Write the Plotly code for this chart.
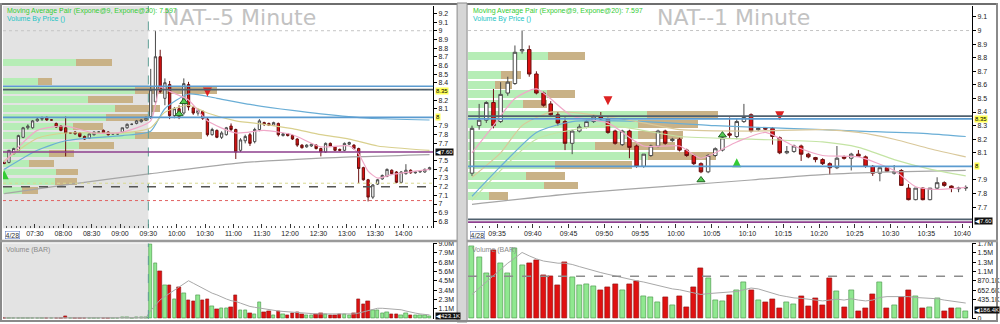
import pandas as pd
import plotly.graph_objects as go

DAY = "2020-04-28 "

# ======================= LEFT PANEL : NAT 5-minute =======================
l_first, l_last = "06:55", "14:25"          # first / last 5-minute bar
l_open = [7.48, 7.48, 7.58, 7.62, 7.77, 7.88, 7.88, 7.96, 7.98, 8.00, 7.97, 7.93, 7.90,
          7.88, 7.82, 7.83, 7.82, 7.78, 7.76, 7.80, 7.83, 7.85, 7.83, 7.81, 7.81,
          7.83, 7.88, 7.92, 7.93, 7.95, 7.97,
          8.01, 8.18, 8.70, 8.22, 8.38, 8.02, 8.10, 8.05, 8.38, 8.11, 8.05, 8.07,
          7.98, 7.80, 7.85, 7.77, 7.80, 7.90, 7.86, 7.62, 7.73, 7.80, 7.72, 7.86,
          7.94, 7.93, 7.91, 7.93, 7.79, 7.81, 7.79, 7.75, 7.68, 7.66, 7.67, 7.68,
          7.64, 7.60, 7.70, 7.66, 7.63, 7.62, 7.69, 7.68, 7.64, 7.42, 7.28, 7.08,
          7.23, 7.29, 7.32, 7.39, 7.37, 7.25, 7.35, 7.39, 7.36, 7.37, 7.37, 7.40]
l_high = [7.49, 7.62, 7.65, 7.80, 7.89, 7.92, 7.97, 8.00, 8.01, 8.01, 7.98, 7.94, 7.91,
          8.01, 7.83, 7.84, 7.83, 7.79, 7.82, 7.84, 7.84, 7.86, 7.84, 7.82, 7.82,
          7.88, 7.93, 7.93, 7.97, 7.98, 8.01,
          8.56, 9.00, 8.78, 8.45, 8.42, 8.12, 8.14, 8.45, 8.41, 8.13, 8.10, 8.08,
          8.00, 7.88, 7.86, 7.84, 7.89, 7.93, 7.87, 7.76, 7.80, 7.82, 7.88, 7.98,
          7.95, 7.94, 7.95, 7.94, 7.82, 7.82, 7.80, 7.76, 7.69, 7.69, 7.70, 7.69,
          7.65, 7.71, 7.71, 7.67, 7.64, 7.71, 7.72, 7.69, 7.65, 7.43, 7.29, 7.23,
          7.29, 7.34, 7.41, 7.40, 7.38, 7.38, 7.46, 7.40, 7.38, 7.39, 7.41, 7.43]
l_low = [7.46, 7.47, 7.57, 7.62, 7.76, 7.86, 7.87, 7.95, 7.96, 7.96, 7.96, 7.88, 7.84,
         7.55, 7.81, 7.80, 7.77, 7.74, 7.75, 7.79, 7.82, 7.81, 7.79, 7.80, 7.80,
         7.82, 7.87, 7.91, 7.92, 7.94, 7.96,
         7.98, 8.15, 8.28, 8.14, 7.98, 7.99, 7.98, 8.03, 8.08, 8.03, 8.02, 7.97,
         7.78, 7.79, 7.76, 7.75, 7.79, 7.84, 7.52, 7.60, 7.70, 7.67, 7.70, 7.84,
         7.90, 7.90, 7.90, 7.78, 7.78, 7.78, 7.74, 7.66, 7.64, 7.65, 7.66, 7.63,
         7.55, 7.59, 7.66, 7.61, 7.61, 7.61, 7.68, 7.63, 7.24, 7.27, 7.03, 7.06,
         7.22, 7.28, 7.31, 7.34, 7.24, 7.24, 7.34, 7.35, 7.35, 7.36, 7.36, 7.39]
l_close = [7.47, 7.62, 7.64, 7.79, 7.88, 7.90, 7.96, 7.98, 7.99, 7.97, 7.97, 7.89, 7.85,
           7.82, 7.82, 7.81, 7.78, 7.75, 7.81, 7.83, 7.83, 7.82, 7.80, 7.81, 7.81,
           7.88, 7.92, 7.92, 7.96, 7.97, 8.00,
           8.32, 8.70, 8.30, 8.40, 8.02, 8.10, 8.01, 8.39, 8.12, 8.05, 8.08, 7.99,
           7.80, 7.86, 7.77, 7.82, 7.88, 7.86, 7.60, 7.74, 7.78, 7.70, 7.86, 7.96,
           7.92, 7.91, 7.94, 7.80, 7.81, 7.79, 7.75, 7.68, 7.65, 7.68, 7.69, 7.64,
           7.60, 7.70, 7.67, 7.62, 7.62, 7.70, 7.71, 7.64, 7.41, 7.28, 7.08, 7.22,
           7.28, 7.33, 7.40, 7.35, 7.25, 7.37, 7.39, 7.36, 7.37, 7.38, 7.40, 7.42]
# volume in millions of shares
l_vol = [0.02, 0.03, 0.02, 0.03, 0.02, 0.02, 0.03, 0.04, 0.02, 0.03, 0.02, 0.02, 0.03,
         0.20, 0.03, 0.02, 0.02, 0.03, 0.02, 0.03, 0.02, 0.02, 0.02, 0.03, 0.02,
         0.06, 0.05, 0.04, 0.05, 0.06, 0.10,
         8.9, 6.6, 5.6, 3.9, 3.9, 2.3, 3.7, 3.0, 2.2, 2.0, 2.8, 2.2,
         2.3, 1.46, 1.07, 1.18, 1.18, 1.3, 2.76, 1.0, 1.0, 0.59, 0.47, 1.89,
         0.71, 0.79, 0.39, 0.87, 0.47, 0.32, 0.59, 0.71, 0.47, 0.39, 0.32, 0.47,
         0.59, 0.47, 0.32, 0.32, 0.47, 0.47, 0.39, 0.59, 2.29, 1.66, 2.05, 0.99,
         0.99, 0.59, 0.71, 0.47, 0.47, 0.32, 0.59, 0.32, 0.32, 0.32, 0.32, 0.20]
l_vol_ma = [0.02, 0.02, 0.02, 0.02, 0.02, 0.02, 0.03, 0.03, 0.03, 0.03, 0.03, 0.03, 0.03,
            0.05, 0.05, 0.05, 0.05, 0.05, 0.05, 0.05, 0.05, 0.05, 0.05, 0.03, 0.03,
            0.03, 0.03, 0.03, 0.04, 0.04, 0.05,
            0.9, 1.6, 2.2, 2.6, 3.0, 3.3, 3.8, 4.2, 4.5, 4.2, 3.9, 3.6,
            3.3, 3.0, 2.8, 2.5, 2.3, 2.1, 2.0, 1.8, 1.6, 1.4, 1.3, 1.2,
            1.1, 1.0, 0.9, 0.85, 0.8, 0.75, 0.7, 0.62, 0.58, 0.55, 0.52, 0.5,
            0.5, 0.5, 0.48, 0.47, 0.46, 0.47, 0.46, 0.5, 0.6, 0.75, 0.95, 1.1,
            1.18, 1.18, 1.15, 1.1, 1.05, 1.0, 0.85, 0.7, 0.6, 0.5, 0.42, 0.38]

l_gray_t = ["06:55", "08:00", "09:30", "11:00", "12:30", "14:25"]
l_gray_v = [7.12, 7.22, 7.35, 7.47, 7.53, 7.57]
l_blue_t = ["06:55", "07:30", "08:00", "09:00", "09:30", "09:45", "10:10", "10:40", "11:15",
            "12:00", "12:30", "13:20", "14:25"]
l_blue_v = [7.40, 7.62, 7.73, 7.79, 7.84, 8.10, 8.27, 8.22, 8.15, 8.08, 8.04, 7.99, 7.97]
l_khaki_t = ["06:55", "07:30", "08:00", "09:00", "09:30", "09:45", "10:10", "10:30", "11:00",
             "11:30", "12:00", "12:30", "13:00", "13:30", "14:25"]
l_khaki_v = [7.50, 7.76, 7.82, 7.82, 7.88, 8.06, 8.14, 8.05, 7.96, 7.92, 7.87, 7.80, 7.75, 7.67, 7.62]
l_pink_t = ["06:55", "07:30", "08:00", "08:30", "09:00", "09:30", "09:40", "09:50", "10:10",
            "10:30", "11:00", "11:30", "12:00", "12:30", "13:00", "13:10", "13:20", "13:30",
            "13:45", "14:25"]
l_pink_v = [7.48, 7.85, 7.90, 7.82, 7.83, 7.96, 8.35, 8.30, 8.20, 7.96, 7.82, 7.85, 7.80,
            7.66, 7.67, 7.58, 7.38, 7.30, 7.34, 7.40]

l_vbp_price = [8.63, 8.42, 8.31, 8.21, 8.10, 8.00, 7.89, 7.79, 7.68, 7.58, 7.47, 7.37, 7.26, 7.16]
l_vbp_up = [73, 35, 132, 85, 112, 103, 70, 132, 76, 46, 26, 53, 52, 19]
l_vbp_down = [36, 14, 82, 45, 45, 42, 30, 67, 35, 25, 25, 22, 22, 16]

l_up_sig_t, l_up_sig_p = ["06:55"], [7.39]
l_dn_sig_t, l_dn_sig_p = ["10:30"], [8.24]
l_tri_t, l_tri_p = ["10:00", "10:05"], [8.04, 8.18]

l_xticks = ["07:30", "08:00", "08:30", "09:00", "09:30", "10:00", "10:30", "11:00",
            "11:30", "12:00", "12:30", "13:00", "13:30", "14:00"]
l_price_ticks = [6.8, 6.9, 7.0, 7.1, 7.2, 7.3, 7.4, 7.5, 7.7, 7.8, 7.9, 8.1, 8.2, 8.4,
                 8.5, 8.6, 8.7, 8.8, 8.9, 9.0, 9.1, 9.2]
l_vol_tickvals = [1.125, 2.25, 3.375, 4.5, 5.625, 6.75, 7.875, 9.0]
l_vol_ticktext = ["1.1M", "2.3M", "3.4M", "4.5M", "5.6M", "6.8M", "7.9M", "9.0M"]
l_open_time = "09:30"

# ======================= RIGHT PANEL : NAT 1-minute =======================
r_first, r_last = "09:31", "10:40"
r_open = [7.95, 8.30, 8.34, 8.47, 8.33, 8.54, 8.61, 8.85, 8.86, 8.68,
          8.54, 8.46, 8.38, 8.33, 8.17, 8.26, 8.29, 8.33, 8.37, 8.35,
          8.26, 8.16, 8.26, 8.15, 8.00, 8.08, 8.15, 8.26, 8.19, 8.20,
          8.12, 8.08, 8.02, 7.96, 8.08, 8.12, 8.24, 8.22, 8.33, 8.38,
          8.27, 8.28, 8.28, 8.21, 8.10, 8.11, 8.15, 8.09, 8.065, 8.05,
          8.02, 7.99, 8.07, 8.06, 8.09, 8.07, 8.00, 7.95, 7.99, 7.95,
          7.97, 7.84, 7.755, 7.84, 7.755, 7.84, 7.88, 7.855, 7.835, 7.84]
r_high = [8.30, 8.46, 8.48, 8.57, 8.62, 8.66, 8.89, 9.00, 8.89, 8.70,
          8.55, 8.48, 8.40, 8.36, 8.27, 8.31, 8.34, 8.38, 8.40, 8.36,
          8.27, 8.27, 8.27, 8.16, 8.09, 8.16, 8.27, 8.27, 8.21, 8.21,
          8.13, 8.09, 8.03, 8.09, 8.14, 8.22, 8.36, 8.35, 8.46, 8.39,
          8.29, 8.29, 8.29, 8.22, 8.15, 8.16, 8.16, 8.10, 8.07, 8.06,
          8.03, 8.15, 8.08, 8.10, 8.12, 8.08, 8.01, 7.99, 8.00, 8.01,
          7.98, 7.87, 7.84, 7.845, 7.84, 7.92, 7.89, 7.86, 7.85, 7.86]
r_low = [7.93, 8.27, 8.32, 8.28, 8.32, 8.52, 8.60, 8.83, 8.66, 8.53,
         8.44, 8.37, 8.30, 8.12, 8.09, 8.25, 8.28, 8.32, 8.34, 8.24,
         8.16, 8.15, 8.06, 7.99, 7.99, 8.07, 8.14, 8.16, 8.18, 8.11,
         8.07, 8.01, 7.95, 7.95, 8.07, 8.11, 8.21, 8.20, 8.32, 8.25,
         8.26, 8.27, 8.16, 8.09, 8.09, 8.10, 8.04, 8.06, 8.03, 8.01,
         7.94, 7.98, 8.05, 7.97, 8.07, 7.99, 7.93, 7.89, 7.96, 7.94,
         7.86, 7.75, 7.75, 7.75, 7.75, 7.83, 7.85, 7.81, 7.81, 7.82]
r_close = [8.28, 8.34, 8.47, 8.30, 8.53, 8.62, 8.84, 8.86, 8.68, 8.54,
           8.45, 8.38, 8.32, 8.17, 8.26, 8.29, 8.33, 8.37, 8.35, 8.25,
           8.17, 8.26, 8.14, 8.00, 8.09, 8.15, 8.26, 8.17, 8.20, 8.12,
           8.08, 8.02, 7.96, 8.08, 8.13, 8.21, 8.23, 8.33, 8.36, 8.26,
           8.28, 8.275, 8.22, 8.10, 8.11, 8.15, 8.09, 8.07, 8.05, 8.02,
           7.99, 8.06, 8.06, 8.09, 8.075, 8.00, 7.95, 7.99, 7.965, 7.96,
           7.86, 7.755, 7.84, 7.755, 7.84, 7.88, 7.86, 7.84, 7.84, 7.845]
r_vol = [1.68, 1.41, 1.04, 1.59, 1.28, 1.04, 1.63, 1.24, 1.28, 1.35,
         1.01, 0.98, 0.77, 1.31, 0.95, 0.77, 0.79, 0.75, 0.64, 0.72,
         0.78, 0.66, 0.79, 0.87, 0.51, 0.48, 0.37, 0.48, 0.31, 0.51,
         0.26, 0.71, 1.17, 0.92, 0.42, 0.40, 0.53, 0.66, 0.83, 0.64,
         0.42, 0.37, 0.45, 0.22, 0.37, 0.33, 0.50, 0.28, 0.46, 0.31,
         0.92, 0.62, 0.26, 0.64, 0.15, 0.24, 0.55, 0.83, 0.24, 0.29,
         0.48, 0.66, 0.50, 0.24, 0.26, 0.46, 0.17, 0.22, 0.22, 0.15]
r_vol_ma = [0.55, 0.70, 0.85, 1.00, 1.15, 1.28, 1.40, 1.53, 1.45, 1.38,
            1.33, 1.30, 1.28, 1.28, 1.25, 1.20, 1.15, 1.10, 1.06, 1.02,
            0.98, 0.95, 0.90, 0.87, 0.84, 0.80, 0.76, 0.72, 0.68, 0.66,
            0.62, 0.58, 0.55, 0.57, 0.58, 0.60, 0.60, 0.62, 0.66, 0.70,
            0.68, 0.63, 0.58, 0.53, 0.50, 0.47, 0.46, 0.44, 0.42, 0.40,
            0.42, 0.44, 0.42, 0.45, 0.42, 0.40, 0.42, 0.48, 0.50, 0.50,
            0.50, 0.50, 0.48, 0.47, 0.46, 0.45, 0.42, 0.40, 0.37, 0.35]

r_gray_t = ["09:31", "09:45", "10:00", "10:10", "10:20", "10:30", "10:40"]
r_gray_v = [7.72, 7.80, 7.86, 7.90, 7.94, 7.96, 7.97]
r_blue_t = ["09:31", "09:35", "09:40", "09:45", "09:55", "10:05", "10:15", "10:25", "10:35", "10:40"]
r_blue_v = [7.78, 8.00, 8.25, 8.33, 8.33, 8.30, 8.28, 8.26, 8.24, 8.22]
r_khaki_t = ["09:31", "09:35", "09:38", "09:42", "09:48", "09:55", "10:00", "10:10", "10:20",
             "10:25", "10:30", "10:35", "10:40"]
r_khaki_v = [7.92, 8.10, 8.30, 8.40, 8.38, 8.32, 8.27, 8.26, 8.27, 8.25, 8.20, 8.13, 8.07]
r_green_t = ["09:31", "09:40", "09:50", "10:00", "10:10", "10:20", "10:25", "10:30", "10:35", "10:40"]
r_green_v = [7.75, 8.20, 8.30, 8.22, 8.20, 8.18, 8.14, 8.05, 7.98, 7.93]
r_pink_t = ["09:31", "09:34", "09:37", "09:40", "09:45", "09:50", "09:55", "10:00", "10:03",
            "10:08", "10:12", "10:16", "10:20", "10:25", "10:30", "10:33", "10:36", "10:40"]
r_pink_v = [8.10, 8.30, 8.50, 8.57, 8.37, 8.32, 8.15, 8.15, 8.06, 8.18, 8.25, 8.15, 8.08,
            8.07, 7.97, 7.85, 7.83, 7.845]

r_vbp_price = [8.81, 8.67, 8.60, 8.53, 8.46, 8.38, 8.31, 8.23, 8.15, 8.08, 8.01, 7.93, 7.86, 7.78]
r_vbp_up = [80, 33, 27, 79, 55, 179, 170, 170, 127, 180, 87, 58, 76, 21]
r_vbp_down = [37, 20, 17, 28, 24, 71, 60, 45, 80, 68, 77, 39, 34, 19]

r_up_sig_t, r_up_sig_p = ["10:08"], [8.06]
r_dn_sig_t, r_dn_sig_p = ["09:50", "10:14"], [8.45, 8.34]
r_tri_t, r_tri_p = ["10:03", "10:06"], [7.90, 8.23]

r_xticks = ["09:35", "09:40", "09:45", "09:50", "09:55", "10:00", "10:05", "10:10",
            "10:15", "10:20", "10:25", "10:30", "10:35", "10:40"]
r_price_ticks = [7.7, 7.8, 7.9, 8.1, 8.2, 8.3, 8.4, 8.5, 8.6, 8.7, 8.8, 8.9, 9.0, 9.1]
r_vol_tickvals = [0, 0.4351, 0.6526, 0.8701, 1.0876, 1.3051, 1.5226, 1.7401]
r_vol_ticktext = ["0", "435.1K", "652.6K", "870.1K", "1.1M", "1.3M", "1.5M", "1.7M"]
r_vol_avg_line = 0.975

# ======================= helpers / styling =======================
L_HALF = pd.Timedelta(minutes=2.5)
R_HALF = pd.Timedelta(seconds=30)


def ts(t):
    return pd.Timestamp(DAY + t)


def tl(times, half):
    return [ts(t) + half for t in times]


GREEN_BAR, RED_BAR = "#90e890", "#e01010"
VBP_GREEN, VBP_TAN = "#b6edb6", "#c9b287"
FONT = "Liberation Sans, Arial, sans-serif"

l_x = pd.date_range(ts(l_first), ts(l_last), freq="5min") + L_HALF
r_x = pd.date_range(ts(r_first), ts(r_last), freq="1min") + R_HALF
l_cols = [GREEN_BAR if c >= o else RED_BAR for o, c in zip(l_open, l_close)]
r_cols = [GREEN_BAR if c >= o else RED_BAR for o, c in zip(r_open, r_close)]
l_lcols = ["#3f8f3f" if c >= o else "#8a1010" for o, c in zip(l_open, l_close)]
r_lcols = ["#3f8f3f" if c >= o else "#8a1010" for o, c in zip(r_open, r_close)]

LEFT_DOM = [0.003, 0.434]
RIGHT_DOM = [0.469, 0.974]
PRICE_DOM = [1 - 229 / 324, 1 - 3 / 324]
VOL_DOM = [1 - 321 / 324, 1 - 244 / 324]
L_XR = [ts("06:56:12"), ts("14:31:18")]
R_XR = [ts("09:30:57"), ts("10:41:23")]
L_YR = [6.718, 9.286]
R_YR = [7.543, 9.181]
L_VR = [-0.118, 9.02]
R_VR = [-0.0229, 1.745]

fig = go.Figure()


def add_panel(xb, xa, ya, xv, yv, xs, op, hi, lo, cl, vol, vma, cols, lcols, half, width_ms,
              vbp_p, vbp_up, vbp_dn, vbp_w, lines, up_sig, dn_sig, tri):
    # volume by price (base axis -> drawn beneath candles)
    fig.add_trace(go.Bar(x=vbp_up, y=vbp_p, orientation="h", xaxis=xb, yaxis=ya,
                         marker=dict(color=VBP_GREEN, line=dict(width=0)), width=vbp_w))
    fig.add_trace(go.Bar(x=vbp_dn, y=vbp_p, base=vbp_up, orientation="h", xaxis=xb, yaxis=ya,
                         marker=dict(color=VBP_TAN, line=dict(width=0)), width=vbp_w))
    for (t, v, c, w) in lines:
        fig.add_trace(go.Scatter(x=tl(t, half), y=v, mode="lines", xaxis=xa, yaxis=ya,
                                 line=dict(color=c, width=w, shape="spline", smoothing=0.6)))
    fig.add_trace(go.Candlestick(x=xs, open=op, high=hi, low=lo, close=cl, xaxis=xa, yaxis=ya,
                                 increasing=dict(fillcolor="#ffffff", line=dict(color="#4a4a4a", width=1)),
                                 decreasing=dict(fillcolor="#dd1111", line=dict(color="#6a1010", width=1)),
                                 whiskerwidth=0))
    fig.add_trace(go.Scatter(x=tl(up_sig[0], half), y=up_sig[1], mode="markers", xaxis=xa, yaxis=ya,
                             marker=dict(symbol="arrow-up", size=9, color="#33cc33")))
    fig.add_trace(go.Scatter(x=tl(dn_sig[0], half), y=dn_sig[1], mode="markers", xaxis=xa, yaxis=ya,
                             marker=dict(symbol="arrow-down", size=9, color="#dd2222")))
    fig.add_trace(go.Scatter(x=tl(tri[0], half), y=tri[1], mode="markers", xaxis=xa, yaxis=ya,
                             marker=dict(symbol="triangle-up", size=7, color="#55cc55",
                                         line=dict(color="#226622", width=1))))
    # volume
    fig.add_trace(go.Bar(x=xs, y=vol, xaxis=xv, yaxis=yv, width=width_ms,
                         marker=dict(color=cols, line=dict(color=lcols, width=0.6))))
    fig.add_trace(go.Scatter(x=xs, y=vma, mode="lines", xaxis=xv, yaxis=yv,
                             line=dict(color="#a8a8a8", width=1)))


add_panel("x5", "x", "y", "x2", "y2", l_x, l_open, l_high, l_low, l_close, l_vol, l_vol_ma,
          l_cols, l_lcols, L_HALF, 0.72 * 300000, l_vbp_price, l_vbp_up, l_vbp_down, 0.08,
          [(l_gray_t, l_gray_v, "#a6a6a6", 1.2), (l_blue_t, l_blue_v, "#6aaed6", 1.2),
           (l_khaki_t, l_khaki_v, "#d9d08e", 1.2), (l_pink_t, l_pink_v, "#f0a8c8", 1.2)],
          (l_up_sig_t, l_up_sig_p), (l_dn_sig_t, l_dn_sig_p), (l_tri_t, l_tri_p))
add_panel("x6", "x3", "y3", "x4", "y4", r_x, r_open, r_high, r_low, r_close, r_vol, r_vol_ma,
          r_cols, r_lcols, R_HALF, 0.7 * 60000, r_vbp_price, r_vbp_up, r_vbp_down, 0.058,
          [(r_gray_t, r_gray_v, "#a6a6a6", 1.2), (r_blue_t, r_blue_v, "#6aaed6", 1.2),
           (r_khaki_t, r_khaki_v, "#d9c89a", 1.2), (r_green_t, r_green_v, "#c4e4a4", 1.2),
           (r_pink_t, r_pink_v, "#f0a8c8", 1.2)],
          (r_up_sig_t, r_up_sig_p), (r_dn_sig_t, r_dn_sig_p), (r_tri_t, r_tri_p))

tickfont = dict(family=FONT, size=7, color="#222")


def price_y(rng, anchor, tv):
    return dict(domain=PRICE_DOM, range=rng, anchor=anchor, side="right", tickvals=tv,
                ticks="outside", ticklen=3, tickcolor="#000", showline=True, linecolor="#000",
                linewidth=1, showgrid=False, zeroline=False, tickfont=tickfont, fixedrange=True)


def vol_y(rng, anchor, tv, tt):
    return dict(domain=VOL_DOM, range=rng, anchor=anchor, side="right", tickvals=tv, ticktext=tt,
                ticks="outside", ticklen=3, tickcolor="#000", showline=True, linecolor="#000",
                linewidth=1, showgrid=False, zeroline=False, tickfont=tickfont, fixedrange=True)


def time_x(dom, rng, base, anchor, ticks, minor_ms, minor0):
    return dict(domain=dom, range=rng, overlaying=base, anchor=anchor, type="date",
                tickvals=[ts(t) for t in ticks], ticktext=ticks, ticks="inside", ticklen=4,
                tickcolor="#333", tickfont=tickfont, showgrid=False, zeroline=False,
                showline=False, rangeslider=dict(visible=False), fixedrange=True,
                minor=dict(dtick=minor_ms, tick0=ts(minor0), ticks="inside", ticklen=2,
                           tickcolor="#555", showgrid=False))


fig.update_layout(
    width=1000, height=324, margin=dict(l=0, r=0, t=0, b=0),
    paper_bgcolor="#ffffff", plot_bgcolor="#ffffff", showlegend=False,
    barmode="overlay", bargap=0, hovermode=False,
    xaxis5=dict(domain=LEFT_DOM, range=[0, 431], anchor="y", visible=False, fixedrange=True),
    xaxis=time_x(LEFT_DOM, L_XR, "x5", "y", l_xticks, 300000, "06:55"),
    yaxis=price_y(L_YR, "x5", l_price_ticks),
    xaxis2=dict(domain=LEFT_DOM, range=L_XR, anchor="y2", type="date", showticklabels=False,
                ticks="", showgrid=False, zeroline=False, fixedrange=True),
    yaxis2=vol_y(L_VR, "x2", l_vol_tickvals, l_vol_ticktext),
    xaxis6=dict(domain=RIGHT_DOM, range=[0, 505], anchor="y3", visible=False, fixedrange=True),
    xaxis3=time_x(RIGHT_DOM, R_XR, "x6", "y3", r_xticks, 60000, "09:31"),
    yaxis3=price_y(R_YR, "x6", r_price_ticks),
    xaxis4=dict(domain=RIGHT_DOM, range=R_XR, anchor="y4", type="date", showticklabels=False,
                ticks="", showgrid=False, zeroline=False, fixedrange=True),
    yaxis4=vol_y(R_VR, "x4", r_vol_tickvals, r_vol_ticktext),
)

shapes = []
# pre-market shading + session open marker (left panel)
for xr, yr, rng in (("x", "y", L_YR), ("x2", "y2", L_VR)):
    shapes.append(dict(type="rect", xref=xr, yref=yr, x0=L_XR[0], x1=ts(l_open_time),
                       y0=rng[0], y1=rng[1], fillcolor="#e3e3e3", line=dict(width=0), layer="below"))
    shapes.append(dict(type="line", xref=xr, yref=yr, x0=ts(l_open_time), x1=ts(l_open_time),
                       y0=rng[0], y1=rng[1], line=dict(color="#5f9f95", width=1, dash="dash"),
                       layer="above"))

l_levels = [(9.00, "#c4c4c4", 1, "dot"), (8.36, "#5b9bd0", 1.6, "solid"), (8.32, "#50606e", 1.6, "solid"),
            (8.00, "#5b9bd0", 1.6, "solid"), (7.60, "#8e3f8e", 1.6, "solid"),
            (7.24, "#d8d890", 1, "dot"), (7.20, "#555555", 1.5, "dash"), (7.04, "#e06060", 1, "dot")]
r_levels = [(9.00, "#c4c4c4", 1, "dot"), (8.37, "#50606e", 1.6, "solid"), (8.35, "#5b9bd0", 1.6, "solid"),
            (8.00, "#5b9bd0", 1.6, "solid"), (7.61, "#50606e", 1.6, "solid"), (7.59, "#8e3f8e", 1.6, "solid")]
for levels, dom, yr in ((l_levels, LEFT_DOM, "y"), (r_levels, RIGHT_DOM, "y3")):
    for v, c, w, d in levels:
        shapes.append(dict(type="line", xref="paper", yref=yr, x0=dom[0], x1=dom[1], y0=v, y1=v,
                           line=dict(color=c, width=w, dash=d), layer="above"))
shapes.append(dict(type="line", xref="paper", yref="y4", x0=RIGHT_DOM[0], x1=RIGHT_DOM[1],
                   y0=r_vol_avg_line, y1=r_vol_avg_line,
                   line=dict(color="#8c8c8c", width=1.5, dash="dash"), layer="above"))


def prect(x0, x1, y0, y1, fill, line=None):
    return dict(type="rect", xref="paper", yref="paper", x0=x0 / 1000, x1=x1 / 1000,
                y0=1 - y1 / 324, y1=1 - y0 / 324, fillcolor=fill,
                line=dict(width=0) if line is None else dict(color=line, width=1), layer="above")


shapes += [
    prect(0, 1000, 0, 2, "#6e6e6e"),
    prect(0, 2, 0, 324, "#8a8a8a"),
    prect(998, 1000, 0, 324, "#8a8a8a"),
    prect(458, 468, 0, 324, "#d6d6d6", "#8a8a8a"),
    prect(0, 458, 240.5, 243, "#9a9a9a"),
    prect(468, 1000, 240.5, 243, "#9a9a9a"),
    prect(0, 1000, 322, 324, "#8a8a8a"),
]
fig.update_layout(shapes=shapes)

ann = []


def txt(x, y, s, size, color, **kw):
    d = dict(x=x / 1000, y=1 - y / 324, xref="paper", yref="paper", text=s, showarrow=False,
             xanchor="left", yanchor="middle", font=dict(family=FONT, size=size, color=color))
    d.update(kw)
    ann.append(d)


for cx, ttl in ((240, "NAT--5 Minute"), (735, "NAT--1 Minute")):
    ann.append(dict(x=cx / 1000, y=1 - 15 / 324, xref="paper", yref="paper", text=ttl,
                    xanchor="center", yanchor="middle", showarrow=False,
                    font=dict(family="DejaVu Sans", size=22, color="#c2c2c2")))
for x0 in (5, 472):
    txt(x0, 8, "Moving Average Pair (Expone@9, Expone@20): 7.597", 7, "#33cc33")
    txt(x0, 16, "Volume By Price ()", 7, "#22c4c4")
    txt(x0 - 1, 251, "Volume (BAR)", 7, "#8a8a8a")
txt(5, 236, "4/28", 7, "#333", bordercolor="#5070c0", borderwidth=0.5, borderpad=0)
txt(471, 236, "4/28", 7, "#333", bordercolor="#5070c0", borderwidth=0.5, borderpad=0)


def box(xp, yref, yv, s, bg, fg, yanchor="middle"):
    ann.append(dict(x=xp, y=yv, xref="paper", yref=yref, text=s, showarrow=False,
                    xanchor="left", yanchor=yanchor, bgcolor=bg, borderpad=0,
                    font=dict(family=FONT, size=6, color=fg)))


box(0.4355, "y", 8.35, "8.35", "#ffff55", "#000", yanchor="top")
box(0.4355, "y", 8.00, "8", "#ffff55", "#000")
box(0.4355, "y", 7.60, "◀7.60", "#111111", "#ffffff")
box(0.4355, "paper", 1 - 318 / 324, "◀423.1K", "#111111", "#ffffff")
box(0.9755, "y3", 8.35, "8.35", "#ffff55", "#000")
box(0.9755, "y3", 8.00, "8", "#ffff55", "#000")
box(0.9755, "y3", 7.60, "◀7.60", "#111111", "#ffffff")
box(0.9755, "y4", 0.1864, "◀186.4K", "#111111", "#ffffff")
fig.update_layout(annotations=ann)

fig.write_html("out.html")
